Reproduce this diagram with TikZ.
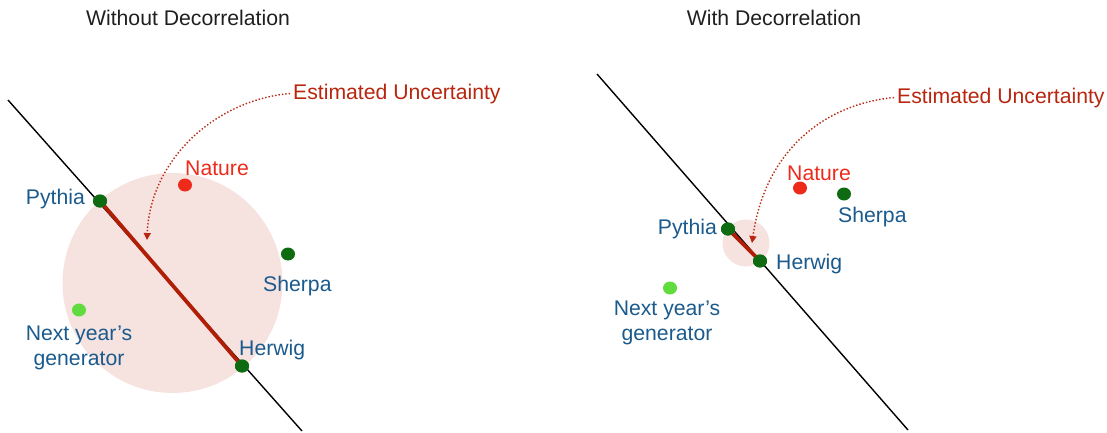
\documentclass[tikz,border=0pt]{standalone}
\usepackage{fontspec}
\setmainfont{Liberation Sans}
\usetikzlibrary{arrows.meta}
\definecolor{lblue}{HTML}{1A5A8C}
\definecolor{dgreen}{HTML}{0E6B12}
\definecolor{lgreen}{HTML}{62DB3E}
\definecolor{natred}{HTML}{EE2A1B}
\definecolor{segred}{HTML}{B01E05}
\definecolor{eured}{HTML}{B8260F}
\definecolor{halo}{HTML}{F6E3E0}
\tikzset{
  dot/.style={ellipse,inner sep=0pt,minimum width=14pt,minimum height=13pt},
  gdot/.style={dot,fill=dgreen},
  lbl/.style={font=\fontsize{21.2}{25}\selectfont,text=lblue,inner sep=0pt},
  ttl/.style={font=\fontsize{21.2}{25}\selectfont,text=black!88,inner sep=0pt,anchor=base},
  eulbl/.style={font=\fontsize{21.2}{25}\selectfont,text=eured,inner sep=0pt,anchor=base west},
  natlbl/.style={font=\fontsize{21.2}{25}\selectfont,text=natred,inner sep=0pt,anchor=base west},
  axis/.style={draw=black,line width=1.4pt},
  seg/.style={draw=segred,line width=3.8pt},
  euarrow/.style={draw=eured,line width=1.4pt,dotted,-{Triangle[length=7pt,width=7pt]}},
}
\usetikzlibrary{shapes.geometric}
\begin{document}
\begin{tikzpicture}[x=1pt,y=-1pt]
\useasboundingbox (0,0) rectangle (1107,432);
% ---------------- left panel ----------------
\node[ttl] (t1) at (188,25) {Without Decorrelation};
\fill[halo] (172.5,283) circle (110);
\coordinate (a1s) at (8,100);
\coordinate (a1e) at (302,431);
\draw[axis] (a1s) -- (a1e);
\node[gdot] (py1) at (100,201) {};
\node[gdot] (hw1) at (242,366) {};
\draw[seg] (py1.center) -- (hw1.center);
\node[gdot] at (py1) {};
\node[gdot] at (hw1) {};
\node[dot,fill=natred] (na1) at (185,185) {};
\node[gdot] (sh1) at (288,254) {};
\node[dot,fill=lgreen] (nx1) at (79,310) {};
\node[lbl,anchor=base east] (py1l) at (85,204) {Pythia};
\node[lbl,anchor=base west] (hw1l) at (239,355) {Herwig};
\node[lbl,anchor=base west] (sh1l) at (263,291) {Sherpa};
\node[natlbl] (na1l) at (185,175) {Nature};
\node[lbl,anchor=base,align=center] (nx1l) at (79,365) {Next year’s\\generator};
\node[eulbl] (eu1) at (293,99) {Estimated Uncertainty};
\coordinate (tip1) at (147,240);
\draw[euarrow] ([xshift=-3pt]eu1.west) .. controls (215,100) and (150,160) .. (tip1);
% ---------------- right panel ----------------
\node[ttl] (t2) at (774,25) {With Decorrelation};
\fill[halo] (746,243) circle (23.5);
\coordinate (a2s) at (597,74);
\coordinate (a2e) at (908,430);
\draw[axis] (a2s) -- (a2e);
\node[gdot] (py2) at (728,229) {};
\node[gdot] (hw2) at (760,261) {};
\draw[seg] (py2.center) -- (hw2.center);
\node[gdot] at (py2) {};
\node[gdot] at (hw2) {};
\node[dot,fill=natred] (na2) at (800,188) {};
\node[gdot] (sh2) at (844,194) {};
\node[dot,fill=lgreen] (nx2) at (670,288) {};
\node[lbl,anchor=base east] (py2l) at (717,234) {Pythia};
\node[lbl,anchor=base west] (hw2l) at (776,269) {Herwig};
\node[lbl,anchor=base west] (sh2l) at (838,222) {Sherpa};
\node[natlbl] (na2l) at (787,180) {Nature};
\node[lbl,anchor=base,align=center] (nx2l) at (667,340) {Next year’s\\generator};
\node[eulbl] (eu2) at (897,103) {Estimated Uncertainty};
\coordinate (tip2) at (752,243);
\draw[euarrow] ([xshift=-3pt]eu2.west) .. controls (825,104) and (765,150) .. (tip2);
\end{tikzpicture}
\end{document}
